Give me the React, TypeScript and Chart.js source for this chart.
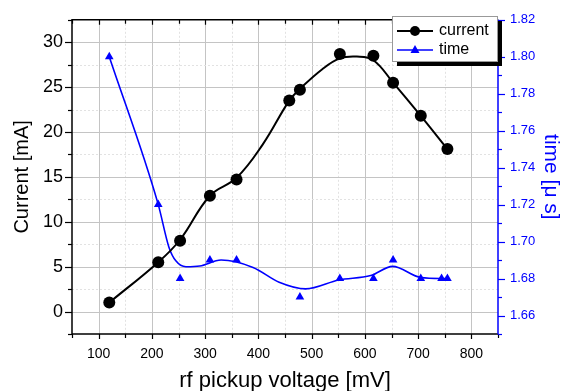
import React, { useEffect, useRef } from "react";
import { Chart, registerables } from "chart.js";

Chart.register(...registerables);

// ---- data ----
const currentVoltage = [120, 212, 253, 309, 359, 458, 478, 553, 616, 653, 705, 755];
const currentValues = [1.0, 5.5, 7.9, 12.9, 14.7, 23.5, 24.7, 28.7, 28.5, 25.5, 21.8, 18.1];

const timeVoltage = [120, 212, 253, 309, 359, 478, 553, 616, 653, 705, 744, 755];
const timeValues = [1.80, 1.72, 1.68, 1.69, 1.69, 1.67, 1.68, 1.68, 1.69, 1.68, 1.68, 1.68];

// smoothed fit curves
const currentFitVoltage = [120, 212, 253, 309, 359, 408, 458, 478, 520, 553, 585, 616, 653, 705, 755];
const currentFitValues = [1.0, 5.5, 8.0, 12.9, 14.9, 18.6, 23.5, 24.8, 27.0, 28.2, 28.4, 28.0, 25.5, 21.8, 18.1];

const timeFitVoltage = [120, 212, 232, 245, 264, 290, 330, 390, 439, 489, 551, 611, 652, 705, 755];
const timeFitValues = [1.80, 1.72, 1.697, 1.6896, 1.6864, 1.6868, 1.690, 1.686, 1.678, 1.6744, 1.6792, 1.6816, 1.6866, 1.6806, 1.680];

const xTicksMin = 50;
const xTicksMax = 850;
const yMin = -2.5;
const yMax = 32.5;
const y2Min = 1.65;
const y2Max = 1.82;

const BLUE = "#0000ff";
const FONT = "'Liberation Sans', Arial, sans-serif";

const toXY = (xs: number[], ys: number[]) => xs.map((x, i) => ({ x, y: ys[i] }));

const framePlugin = {
  id: "frame",
  beforeDatasetsDraw(chart: any) {
    const { ctx, chartArea } = chart;
    const { left, right, top, bottom } = chartArea;
    const x = chart.scales.x;
    const y = chart.scales.y;
    ctx.save();
    for (let v = xTicksMin + 50; v < xTicksMax; v += 50) {
      const px = Math.round(x.getPixelForValue(v)) + 0.5;
      const major = v % 100 === 0;
      ctx.beginPath();
      ctx.strokeStyle = major ? "#c4c4c4" : "#e2e2e2";
      ctx.lineWidth = 1;
      ctx.setLineDash(major ? [] : [2, 2]);
      ctx.moveTo(px, top);
      ctx.lineTo(px, bottom);
      ctx.stroke();
    }
    for (let k = 0; k < 13; k++) {
      const v = k * 2.5;
      const py = Math.round(y.getPixelForValue(v)) + 0.5;
      const major = k % 2 === 0;
      ctx.beginPath();
      ctx.strokeStyle = major ? "#c4c4c4" : "#e2e2e2";
      ctx.lineWidth = 1;
      ctx.setLineDash(major ? [] : [2, 2]);
      ctx.moveTo(left, py);
      ctx.lineTo(right, py);
      ctx.stroke();
    }
    ctx.restore();
  },
  afterDatasetsDraw(chart: any) {
    const { ctx, chartArea } = chart;
    const { left, right, top, bottom } = chartArea;
    const x = chart.scales.x;
    const y = chart.scales.y;
    const y2 = chart.scales.y2;
    ctx.save();
    ctx.setLineDash([]);
    ctx.lineWidth = 1.2;
    ctx.strokeStyle = "#000";
    for (let v = xTicksMin; v <= xTicksMax; v += 50) {
      const px = Math.round(x.getPixelForValue(v)) + 0.5;
      const major = v % 100 === 0;
      ctx.beginPath();
      ctx.moveTo(px, bottom);
      ctx.lineTo(px, bottom + (major ? 5 : 4));
      ctx.moveTo(px, top);
      ctx.lineTo(px, top + (major ? 5 : 4));
      ctx.stroke();
    }
    for (let k = -1; k <= 13; k++) {
      const v = k * 2.5;
      const py = Math.round(y.getPixelForValue(v)) + 0.5;
      const major = k % 2 === 0;
      ctx.beginPath();
      ctx.moveTo(left, py);
      ctx.lineTo(left - (major ? 7 : 4), py);
      ctx.stroke();
    }
    ctx.lineWidth = 1.5;
    ctx.beginPath();
    ctx.moveTo(right, top);
    ctx.lineTo(left, top);
    ctx.lineTo(left, bottom);
    ctx.lineTo(right, bottom);
    ctx.stroke();
    ctx.strokeStyle = BLUE;
    ctx.beginPath();
    ctx.moveTo(right, top);
    ctx.lineTo(right, bottom);
    ctx.stroke();
    ctx.lineWidth = 1.2;
    for (let k = Math.round(y2Min * 100); k <= Math.round(y2Max * 100); k++) {
      const py = Math.round(y2.getPixelForValue(k / 100)) + 0.5;
      const major = k % 2 === 0;
      ctx.beginPath();
      ctx.moveTo(right, py);
      ctx.lineTo(right + (major ? 7 : 4), py);
      ctx.stroke();
    }
    ctx.restore();
  },
  afterDraw(chart: any) {
    const { ctx } = chart;
    ctx.save();
    const bx = 392, by = 16, bw = 105, bh = 45;
    ctx.fillStyle = "#000";
    ctx.fillRect(bx + 5, by + 5, bw, bh);
    ctx.fillStyle = "#fff";
    ctx.fillRect(bx, by, bw, bh);
    ctx.strokeStyle = "#999";
    ctx.lineWidth = 1;
    ctx.strokeRect(bx + 0.5, by + 0.5, bw, bh);
    const y1 = 31, y2p = 50;
    ctx.strokeStyle = "#000";
    ctx.lineWidth = 2;
    ctx.beginPath();
    ctx.moveTo(397, y1);
    ctx.lineTo(433, y1);
    ctx.stroke();
    ctx.fillStyle = "#000";
    ctx.beginPath();
    ctx.arc(415, y1, 5, 0, Math.PI * 2);
    ctx.fill();
    ctx.strokeStyle = BLUE;
    ctx.lineWidth = 1.5;
    ctx.beginPath();
    ctx.moveTo(397, y2p);
    ctx.lineTo(433, y2p);
    ctx.stroke();
    ctx.fillStyle = BLUE;
    ctx.beginPath();
    ctx.moveTo(415, y2p - 5);
    ctx.lineTo(419.5, y2p + 3);
    ctx.lineTo(410.5, y2p + 3);
    ctx.closePath();
    ctx.fill();
    ctx.fillStyle = "#000";
    ctx.font = `16px ${FONT}`;
    ctx.textBaseline = "middle";
    ctx.textAlign = "left";
    ctx.fillText("current", 439, y1);
    ctx.fillText("time", 439, y2p);
    ctx.restore();
  },
};

export default function App() {
  const ref = useRef<HTMLCanvasElement | null>(null);

  useEffect(() => {
    if (!ref.current) return;
    const chart = new Chart(ref.current, {
      type: "scatter",
      data: {
        datasets: [
          {
            label: "current fit",
            data: toXY(currentFitVoltage, currentFitValues),
            showLine: true,
            borderColor: "#000",
            borderWidth: 2,
            pointRadius: 0,
            tension: 0.4,
            yAxisID: "y",
          },
          {
            label: "current",
            data: toXY(currentVoltage, currentValues),
            showLine: false,
            backgroundColor: "#000",
            borderColor: "#000",
            borderWidth: 0,
            pointRadius: 6,
            pointStyle: "circle",
            yAxisID: "y",
          },
          {
            label: "time fit",
            data: toXY(timeFitVoltage, timeFitValues),
            showLine: true,
            borderColor: BLUE,
            borderWidth: 1.6,
            pointRadius: 0,
            cubicInterpolationMode: "monotone",
            yAxisID: "y2",
          },
          {
            label: "time",
            data: toXY(timeVoltage, timeValues),
            showLine: false,
            backgroundColor: BLUE,
            borderColor: BLUE,
            borderWidth: 0,
            pointRadius: 5,
            pointStyle: "triangle",
            yAxisID: "y2",
          },
        ],
      },
      options: {
        animation: false,
        responsive: false,
        layout: { padding: { top: 19, left: 0, right: 0, bottom: 0 } },
        plugins: { legend: { display: false }, tooltip: { enabled: false } },
        scales: {
          x: {
            type: "linear",
            position: "bottom",
            min: xTicksMin,
            max: xTicksMax,
            afterFit: (s: any) => { s.height = 57; },
            grid: { display: false, drawTicks: false },
            border: { display: false },
            ticks: {
              stepSize: 50,
              autoSkip: false,
              maxRotation: 0,
              padding: 12,
              color: "#000",
              font: { family: FONT, size: 14 },
              callback: (v: any) => (Number(v) % 100 === 0 ? String(v) : ""),
            },
            title: {
              display: true,
              text: "rf pickup voltage [mV]",
              color: "#000",
              font: { family: FONT, size: 22, lineHeight: 1 },
              padding: { top: 0, bottom: -1 },
            },
          },
          y: {
            type: "linear",
            position: "left",
            min: yMin,
            max: yMax,
            afterFit: (s: any) => { s.width = 72; },
            grid: { display: false, drawTicks: false },
            border: { display: false },
            ticks: {
              stepSize: 2.5,
              autoSkip: false,
              padding: 9,
              color: "#000",
              font: { family: FONT, size: 18 },
              callback: (v: any) => (Math.abs(Number(v) % 5) < 1e-9 ? String(v) : ""),
            },
            title: {
              display: true,
              text: "Current [mA]",
              color: "#000",
              font: { family: FONT, size: 20, lineHeight: 1 },
              padding: { top: 12, bottom: 0 },
            },
          },
          y2: {
            type: "linear",
            position: "right",
            min: y2Min,
            max: y2Max,
            afterFit: (s: any) => { s.width = 63; },
            grid: { display: false, drawTicks: false },
            border: { display: false },
            ticks: {
              stepSize: 0.01,
              autoSkip: false,
              padding: 12,
              color: BLUE,
              font: { family: FONT, size: 13 },
              callback: (v: any) => {
                const k = Math.round(Number(v) * 100);
                return k % 2 === 0 ? (k / 100).toFixed(2) : "";
              },
            },
            title: {
              display: true,
              text: "time [μ s]",
              color: BLUE,
              font: { family: FONT, size: 21, lineHeight: 1 },
              padding: { top: 0, bottom: 0 },
            },
          },
        },
      },
      plugins: [framePlugin],
    } as any);
    return () => chart.destroy();
  }, []);

  return (
    <div style={{ position: "fixed", left: 0, top: 0, width: 561, height: 391, background: "#fff" }}>
      <canvas ref={ref} width={561} height={391} style={{ display: "block" }} />
    </div>
  );
}
